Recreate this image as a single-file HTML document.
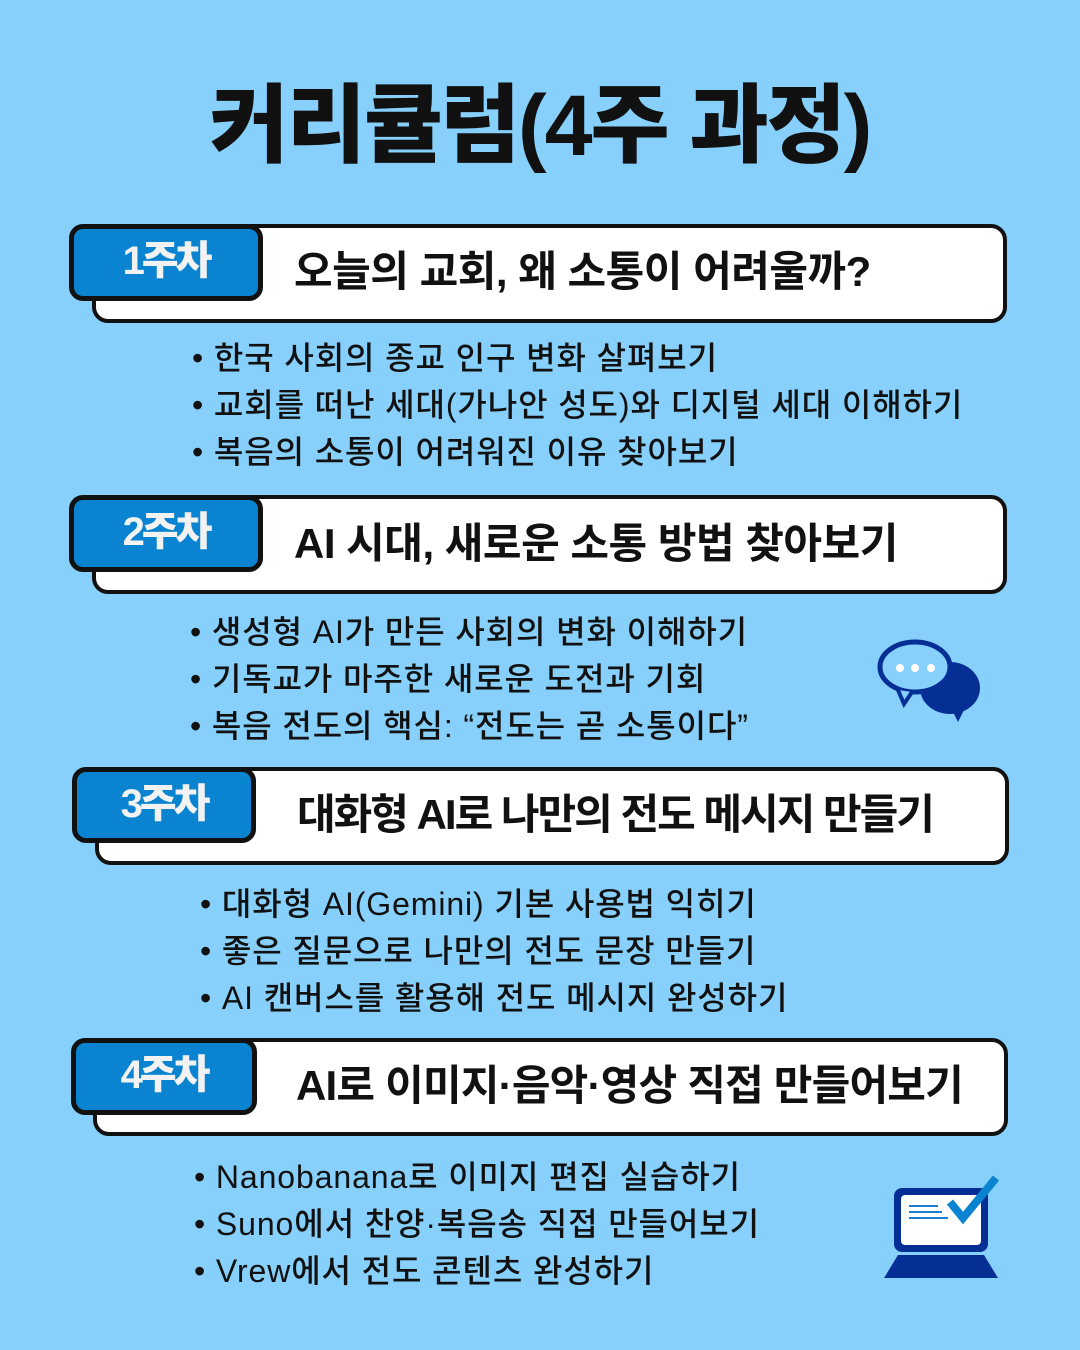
<!DOCTYPE html>
<html><head><meta charset="utf-8"><style>
*{margin:0;padding:0;box-sizing:border-box}
body{width:1080px;height:1350px;background:#87d0fc;position:relative;overflow:hidden;font-family:"Liberation Sans","Noto Sans CJK KR",sans-serif;color:#111}
.h1{position:absolute;left:0;width:1080px;top:76px;text-align:center;font-size:86px;font-weight:900;letter-spacing:-2px;line-height:100px;color:#111}
.box{position:absolute;background:#fff;border:4px solid #111;border-radius:16px}
.badge{position:absolute;background:#0a84d0;border:5px solid #111;border-radius:14px;color:#f2f2f2;font-weight:900;font-size:40px;letter-spacing:-3px;text-align:center;line-height:64px}
.t{position:absolute;font-weight:700;font-size:42px;letter-spacing:-0.5px;line-height:50px;white-space:nowrap}
.b{position:absolute;font-size:32px;font-weight:500;letter-spacing:0.9px;line-height:47px;white-space:nowrap}
</style></head><body>
<div class="h1">커리큘럼(4주 과정)</div>

<div class="box" style="left:92px;top:224px;width:915px;height:99px"></div>
<div class="badge" style="left:69px;top:224px;width:194px;height:77px">1주차</div>
<div class="t" style="left:294px;top:247px">오늘의 교회, 왜 소통이 어려울까?</div>
<div class="b" style="left:192px;top:335px">• 한국 사회의 종교 인구 변화 살펴보기<br>• 교회를 떠난 세대(가나안 성도)와 디지털 세대 이해하기<br>• 복음의 소통이 어려워진 이유 찾아보기</div>

<div class="box" style="left:92px;top:495px;width:915px;height:99px"></div>
<div class="badge" style="left:69px;top:495px;width:194px;height:77px">2주차</div>
<div class="t" style="left:294px;top:519px">AI 시대, 새로운 소통 방법 찾아보기</div>
<div class="b" style="left:190px;top:609px">• 생성형 AI가 만든 사회의 변화 이해하기<br>• 기독교가 마주한 새로운 도전과 기회<br>• 복음 전도의 핵심: “전도는 곧 소통이다”</div>

<div class="box" style="left:95px;top:767px;width:914px;height:98px"></div>
<div class="badge" style="left:72px;top:767px;width:184px;height:76px">3주차</div>
<div class="t" style="left:297px;top:790px;letter-spacing:-2px">대화형 AI로 나만의 전도 메시지 만들기</div>
<div class="b" style="left:200px;top:881px">• 대화형 AI(Gemini) 기본 사용법 익히기<br>• 좋은 질문으로 나만의 전도 문장 만들기<br>• AI 캔버스를 활용해 전도 메시지 완성하기</div>

<div class="box" style="left:93px;top:1038px;width:915px;height:98px"></div>
<div class="badge" style="left:71px;top:1038px;width:186px;height:77px">4주차</div>
<div class="t" style="left:296px;top:1061px;letter-spacing:-0.8px">AI로 이미지·음악·영상 직접 만들어보기</div>
<div class="b" style="left:194px;top:1154px">• Nanobanana로 이미지 편집 실습하기<br>• Suno에서 찬양·복음송 직접 만들어보기<br>• Vrew에서 전도 콘텐츠 완성하기</div>

<svg style="position:absolute;left:860px;top:620px" width="150" height="120" viewBox="0 0 150 120">
<ellipse cx="90" cy="68" rx="30" ry="26" fill="#062f96"/>
<path d="M92 90 L98 102 L106 86 Z" fill="#062f96"/>
<ellipse cx="55" cy="47" rx="37" ry="27" fill="#87d0fc"/>
<ellipse cx="55" cy="47" rx="35" ry="25" fill="#87d0fc" stroke="#062f96" stroke-width="5"/>
<path d="M38 70 L44 84 L52 72" fill="#87d0fc" stroke="#062f96" stroke-width="4"/>
<circle cx="40" cy="48" r="4" fill="#fff"/><circle cx="55" cy="48" r="4" fill="#fff"/><circle cx="71" cy="48" r="4" fill="#fff"/>
</svg>

<svg style="position:absolute;left:870px;top:1160px" width="150" height="130" viewBox="0 0 150 130">
<rect x="24" y="28" width="94" height="64" rx="8" fill="#062f96"/>
<rect x="31" y="35" width="80" height="50" rx="4" fill="#fff"/>
<line x1="39" y1="46" x2="68" y2="46" stroke="#1a7fd0" stroke-width="2"/>
<line x1="39" y1="52" x2="72" y2="52" stroke="#1a7fd0" stroke-width="2"/>
<line x1="39" y1="58" x2="78" y2="58" stroke="#1a7fd0" stroke-width="2"/>
<path d="M80 42 L93 58 L126 18" fill="none" stroke="#0a84d0" stroke-width="8"/>
<path d="M28 95 L114 95 L128 118 L14 118 Z" fill="#062f96"/>
</svg>
</body></html>
